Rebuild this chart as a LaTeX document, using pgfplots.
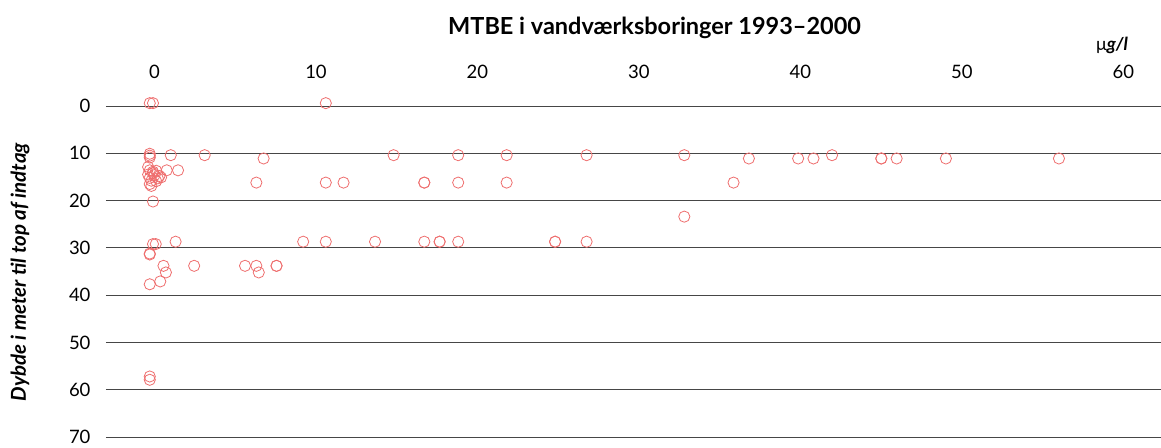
\documentclass[border=0pt]{standalone}
\usepackage{pgfplots}
\pgfplotsset{compat=1.18}
\usepackage{fontspec}
\setmainfont{Lato}
\definecolor{mk}{RGB}{238,110,110}
\definecolor{gl}{RGB}{70,70,70}
\begin{document}
\begin{tikzpicture}
\begin{axis}[
  scale only axis,
  width=1055bp, height=354.65bp,
  xmin=-2.91, xmax=62.42,
  ymin=-5, ymax=70,
  y dir=reverse,
  clip=false,
  axis line style={draw=none},
  major tick length=0pt,
  xtick={0,10,...,60},
  ytick={0,10,...,70},
  xticklabel pos=top,
  ymajorgrids,
  grid style={gl, line width=0.9bp},
  /pgf/number format/assume math mode=true,
  ticklabel style={font=\fontsize{18.5bp}{20bp}\selectfont},
  yticklabel style={anchor=east, xshift=-12bp},
  xticklabel style={xshift=1.5bp},
]
\addplot[only marks, mark=o, mark size=5.6bp, mark options={draw=mk, line width=0.8bp}] coordinates {
(-0.2,-0.6) (0.0,-0.6) (10.7,-0.6)
(-0.2,10.1) (-0.2,10.5) (-0.2,10.9) (1.1,10.4) (3.2,10.4) (14.9,10.4) (18.9,10.4) (21.9,10.4) (26.85,10.4) (32.9,10.4) (42.05,10.4)
(6.85,11.1) (36.9,11.1) (39.95,11.1) (40.9,11.1) (45.1,11.1) (45.1,11.1) (46.05,11.1) (49.1,11.1) (56.1,11.1)
(-0.3,12.9) (-0.2,13.6) (0.0,13.9) (0.2,13.7) (-0.3,14.5) (0.1,14.6) (0.4,14.8) (-0.2,15.2) (0.3,15.3) (0.5,15.1) (-0.1,15.8) (0.2,15.9) (-0.2,16.5) (0.0,14.2) (-0.1,16.9)
(0.85,13.6) (1.55,13.6)
(6.4,16.2) (10.7,16.2) (11.8,16.2) (16.8,16.2) (16.8,16.2) (18.9,16.2) (21.9,16.2) (35.95,16.2)
(0.0,20.2) (32.9,23.4)
(1.4,28.7) (9.3,28.7) (10.7,28.7) (13.75,28.7) (16.8,28.7) (17.75,28.7) (17.75,28.7) (18.9,28.7) (24.9,28.7) (24.9,28.7) (26.85,28.7)
(0.0,29.2) (0.17,29.2)
(-0.2,31.2) (-0.2,31.4)
(0.65,33.8) (2.55,33.8) (5.7,33.8) (6.4,33.8) (7.65,33.8) (7.65,33.8)
(0.8,35.2) (6.55,35.2)
(0.45,37.1) (-0.2,37.7)
(-0.2,57.2) (-0.2,57.9)
};
\node[font=\fontsize{23.5bp}{26bp}\selectfont\bfseries] at (axis description cs:0.52,1.153) {MTBE i vandværksboringer 1993–2000};
\node[font=\fontsize{18bp}{20bp}\selectfont] at (axis description cs:0.9536,1.105) {μ\textbf{\textit{g/l}}};
\node[font=\fontsize{20.5bp}{22bp}\selectfont\bfseries\itshape, rotate=90] at (axis description cs:-0.0815,0.465) {Dybde i meter til top af indtag};
\end{axis}
\pgfresetboundingbox
\path[use as bounding box] (-106bp,-11bp) rectangle (1055bp,437bp);
\end{tikzpicture}
\end{document}
